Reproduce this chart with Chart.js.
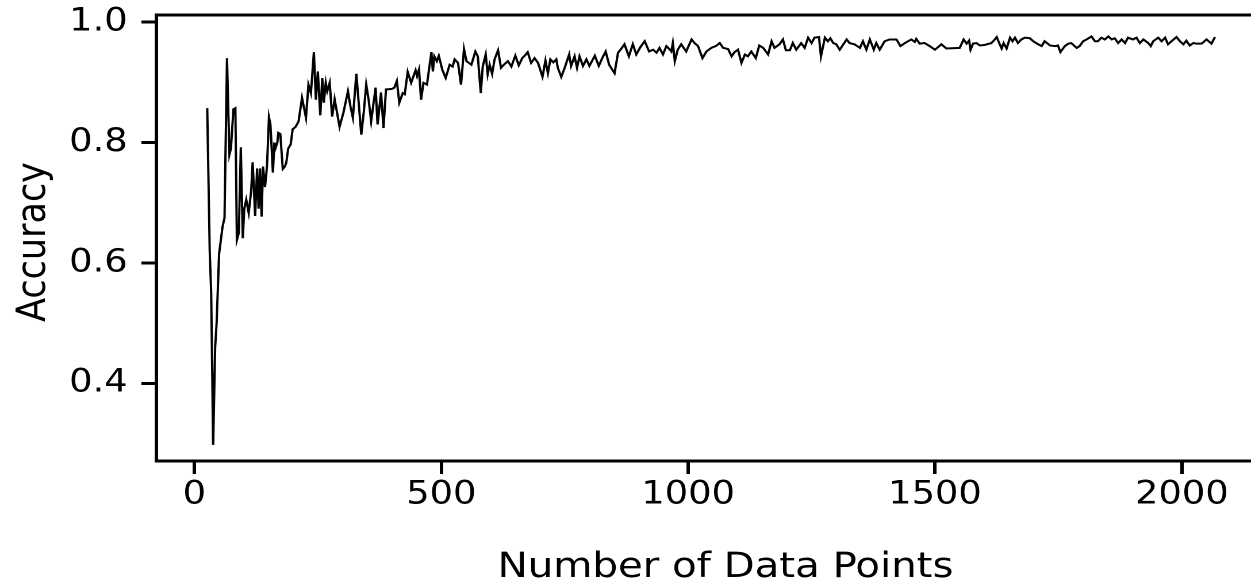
<!DOCTYPE html>
<html>
<head>
<meta charset="utf-8">
<script src="https://cdn.jsdelivr.net/npm/chart.js@4.4.1/dist/chart.umd.min.js"></script>
<style>
  html, body { margin: 0; padding: 0; background: #fff; overflow: hidden; }
  /* the reference figure is stretched horizontally, so the canvas is drawn narrower and scaled */
  #wrap { width: 1088px; height: 582px; transform: scaleX(1.1498); transform-origin: 0 0; }
</style>
</head>
<body>
<div id="wrap">
  <canvas id="accuracyChart" width="1088" height="582" style="width:1088px;height:582px"></canvas>
</div>
<script>
// tick labels
var xTicks = [0, 500, 1000, 1500, 2000];
var yTicks = [0.4, 0.6, 0.8, 1.0];

// [number of data points, accuracy]
var accuracyByPoints = [
    [26, 0.857], [31, 0.62], [34, 0.55], [38, 0.298], [42, 0.46], [45, 0.50], [50, 0.615], [57, 0.66],
    [61, 0.675], [66, 0.94], [71, 0.78], [74, 0.79], [79, 0.855], [83, 0.857], [86, 0.638], [90, 0.65],
    [94, 0.792], [98, 0.641], [101, 0.69], [105, 0.705], [110, 0.683], [115, 0.72], [118, 0.767], [123, 0.678],
    [127, 0.757], [130, 0.69], [133, 0.757], [136, 0.677], [139, 0.76], [143, 0.726], [147, 0.76], [151, 0.842],
    [154, 0.83], [159, 0.75], [162, 0.80], [164, 0.79], [168, 0.80], [170, 0.816], [174, 0.814], [179, 0.756],
    [183, 0.76], [186, 0.766], [190, 0.79], [195, 0.797], [199, 0.822], [205, 0.826], [211, 0.835], [218, 0.874],
    [226, 0.841], [231, 0.896], [236, 0.882], [242, 0.950], [246, 0.871], [250, 0.918], [255, 0.845], [259, 0.907],
    [262, 0.866], [266, 0.899], [269, 0.885], [274, 0.899], [279, 0.843], [284, 0.872], [294, 0.826], [302, 0.85],
    [311, 0.885], [316, 0.86], [321, 0.841], [328, 0.914], [338, 0.813], [343, 0.85], [348, 0.896], [353, 0.87],
    [358, 0.835], [362, 0.86], [367, 0.891], [371, 0.830], [378, 0.883], [383, 0.824], [388, 0.888], [400, 0.889],
    [405, 0.891], [410, 0.902], [415, 0.866], [422, 0.882], [426, 0.88], [432, 0.917], [439, 0.899], [448, 0.920],
    [451, 0.910], [455, 0.921], [459, 0.871], [464, 0.899], [471, 0.896], [480, 0.950], [483, 0.918], [486, 0.943],
    [491, 0.935], [495, 0.944], [502, 0.921], [509, 0.907], [517, 0.929], [523, 0.926], [527, 0.938], [534, 0.932],
    [540, 0.896], [546, 0.955], [551, 0.935], [561, 0.929], [569, 0.951], [574, 0.943], [580, 0.882], [584, 0.926],
    [590, 0.946], [594, 0.913], [598, 0.929], [603, 0.914], [608, 0.938], [615, 0.953], [621, 0.924], [628, 0.93],
    [635, 0.935], [642, 0.926], [650, 0.944], [657, 0.928], [664, 0.940], [670, 0.945], [675, 0.950], [682, 0.932],
    [689, 0.940], [696, 0.932], [705, 0.909], [711, 0.936], [716, 0.915], [721, 0.938], [727, 0.933], [733, 0.938],
    [736, 0.924], [743, 0.909], [750, 0.924], [759, 0.946], [763, 0.927], [770, 0.943], [775, 0.924], [780, 0.943],
    [787, 0.927], [794, 0.938], [800, 0.927], [811, 0.944], [819, 0.927], [826, 0.94], [833, 0.951], [840, 0.929],
    [851, 0.915], [858, 0.949], [864, 0.955], [871, 0.963], [880, 0.943], [888, 0.963], [895, 0.946], [903, 0.958],
    [912, 0.968], [921, 0.951], [929, 0.954], [936, 0.949], [942, 0.957], [949, 0.946], [956, 0.960], [962, 0.955],
    [966, 0.951], [969, 0.965], [973, 0.935], [979, 0.954], [986, 0.963], [996, 0.951], [1002, 0.962], [1007, 0.971],
    [1013, 0.965], [1020, 0.960], [1029, 0.940], [1037, 0.951], [1047, 0.957], [1056, 0.96], [1064, 0.965], [1071, 0.957],
    [1081, 0.955], [1088, 0.943], [1094, 0.950], [1101, 0.954], [1108, 0.932], [1115, 0.946], [1121, 0.943], [1128, 0.951],
    [1137, 0.940], [1144, 0.961], [1152, 0.957], [1162, 0.946], [1169, 0.968], [1175, 0.957], [1185, 0.963], [1192, 0.971],
    [1198, 0.953], [1206, 0.953], [1212, 0.965], [1219, 0.954], [1229, 0.965], [1236, 0.957], [1243, 0.974], [1250, 0.965],
    [1256, 0.974], [1265, 0.975], [1269, 0.943], [1277, 0.974], [1283, 0.968], [1288, 0.973], [1294, 0.965], [1300, 0.963],
    [1307, 0.954], [1321, 0.971], [1327, 0.965], [1337, 0.963], [1348, 0.957], [1354, 0.968], [1361, 0.954], [1368, 0.971],
    [1376, 0.954], [1381, 0.965], [1388, 0.954], [1398, 0.968], [1408, 0.971], [1422, 0.971], [1430, 0.960], [1439, 0.965],
    [1452, 0.971], [1459, 0.967], [1462, 0.972], [1469, 0.964], [1479, 0.965], [1489, 0.960], [1500, 0.954], [1513, 0.963],
    [1523, 0.956], [1550, 0.957], [1558, 0.971], [1564, 0.964], [1569, 0.969], [1572, 0.954], [1577, 0.964], [1584, 0.965],
    [1591, 0.961], [1601, 0.962], [1614, 0.965], [1619, 0.969], [1625, 0.975], [1630, 0.965], [1635, 0.956], [1639, 0.965],
    [1645, 0.956], [1652, 0.974], [1657, 0.968], [1662, 0.974], [1668, 0.965], [1675, 0.971], [1682, 0.974], [1692, 0.973],
    [1699, 0.968], [1709, 0.963], [1716, 0.960], [1722, 0.968], [1733, 0.961], [1743, 0.960], [1749, 0.961], [1754, 0.950],
    [1763, 0.960], [1770, 0.964], [1776, 0.965], [1787, 0.957], [1793, 0.960], [1800, 0.968], [1807, 0.971], [1817, 0.976],
    [1824, 0.968], [1830, 0.968], [1837, 0.974], [1844, 0.971], [1851, 0.976], [1858, 0.971], [1864, 0.973], [1871, 0.965],
    [1878, 0.971], [1885, 0.965], [1891, 0.974], [1901, 0.971], [1908, 0.974], [1915, 0.965], [1922, 0.971], [1932, 0.965],
    [1937, 0.960], [1942, 0.968], [1952, 0.974], [1959, 0.968], [1966, 0.974], [1972, 0.963], [1979, 0.968], [1989, 0.975],
    [1996, 0.968], [2003, 0.963], [2009, 0.969], [2016, 0.961], [2023, 0.965], [2030, 0.964], [2040, 0.964], [2050, 0.971],
    [2060, 0.964], [2067, 0.975]
];

var xTitle = 'Number of Data Points';
var yTitle = 'Accuracy';

document.addEventListener('DOMContentLoaded', function () {
    var ctx = document.getElementById('accuracyChart').getContext('2d');
    var fontFamily = '"DejaVu Sans", "Liberation Sans", sans-serif';

    // top spine and the two axis titles
    var framePlugin = {
        id: 'frame',
        afterDraw: function (chart) {
            var c = chart.ctx;
            var area = chart.chartArea;
            c.save();
            c.strokeStyle = '#000';
            c.lineWidth = 3;
            c.beginPath();
            c.moveTo(area.left - 1.5, area.top);
            c.lineTo(area.right, area.top);
            c.stroke();

            c.fillStyle = '#000';
            c.font = '35px ' + fontFamily;
            c.textAlign = 'center';
            c.textBaseline = 'alphabetic';
            c.fillText(xTitle, 631, 577);

            c.translate(39, 242);
            c.rotate(-Math.PI / 2);
            c.fillText(yTitle, 0, 0);
            c.restore();
        }
    };

    var accuracyChart = new Chart(ctx, {
        type: 'line',
        data: {
            datasets: [{
                label: 'Accuracy',
                data: accuracyByPoints.map(function (p) { return { x: p[0], y: p[1] }; }),
                borderColor: '#000',
                borderWidth: 2,
                pointRadius: 0,
                fill: false,
                tension: 0
            }]
        },
        options: {
            responsive: false,
            animation: false,
            devicePixelRatio: 2,
            layout: { autoPadding: false, padding: { top: 15, left: 0, right: 0, bottom: 0 } },
            plugins: { legend: { display: false }, tooltip: { enabled: false } },
            scales: {
                x: {
                    type: 'linear',
                    min: -77,
                    max: 2140,
                    afterBuildTicks: function (scale) {
                        scale.ticks = xTicks.map(function (v) { return { value: v }; });
                    },
                    afterFit: function (scale) {
                        scale.height = 121;
                        scale.paddingLeft = 0; scale.paddingRight = 0;
                    },
                    grid: { display: true, drawOnChartArea: false, drawTicks: true, tickLength: 13, lineWidth: 3, color: '#000' },
                    border: { display: true, width: 3, color: '#000' },
                    ticks: {
                        color: '#000',
                        font: { family: fontFamily, size: 32 },
                        padding: 2,
                        maxRotation: 0,
                        autoSkip: false,
                        callback: function (v) { return String(v); }
                    }
                },
                y: {
                    min: 0.2712,
                    max: 1.0116,
                    afterBuildTicks: function (scale) {
                        scale.ticks = yTicks.map(function (v) { return { value: v }; });
                    },
                    afterFit: function (scale) {
                        scale.width = 136;
                        scale.paddingTop = 0; scale.paddingBottom = 0;
                    },
                    grid: { display: true, drawOnChartArea: false, drawTicks: true, tickLength: 13, lineWidth: 3, color: '#000' },
                    border: { display: true, width: 3, color: '#000' },
                    ticks: {
                        color: '#000',
                        font: { family: fontFamily, size: 32 },
                        padding: 12,
                        autoSkip: false,
                        callback: function (v) { return Number(v).toFixed(1); }
                    }
                }
            }
        },
        plugins: [framePlugin]
    });
});
</script>
</body>
</html>
